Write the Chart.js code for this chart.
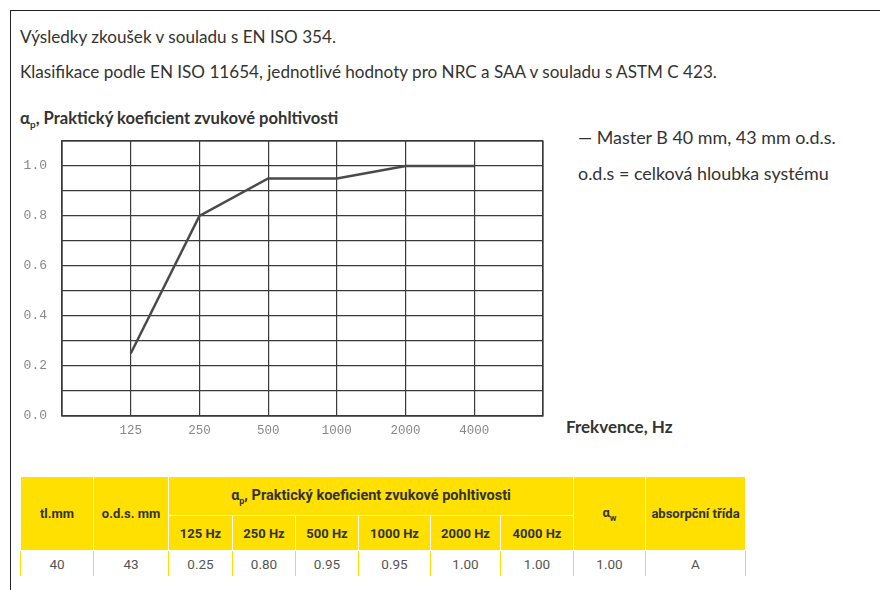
<!DOCTYPE html>
<html>
<head>
<meta charset="utf-8">
<script src="https://cdn.jsdelivr.net/npm/chart.js@4"></script>
<style>
  html, body { margin:0; padding:0; background:#fff; }
  body { width:880px; height:590px; position:relative; overflow:hidden; font-family: Lato, "Open Sans", sans-serif; color:#333; }
  .frame { position:absolute; left:10px; top:10px; width:880px; height:600px; border-left:1px solid #222; border-top:1px solid #222; }
  .t { position:absolute; white-space:nowrap; line-height:1; }
  #chartBox { position:absolute; left:0; top:125px; width:560px; height:320px; }
  table { position:absolute; left:20px; top:476px; border-collapse:collapse; font-family:"Liberation Sans Narrow", Roboto, sans-serif; }
  th { background:#FFE000; color:#333; font-weight:bold; font-size:13px; border:1px solid #fff; padding:0; text-align:center; }
  td { font-size:13.5px; color:#555; text-align:center; border-left:1px solid #FFE000; border-right:1px solid #FFE000; height:25px; padding:0; }
</style>
</head>
<body>
<div class="frame"></div>
<div class="t" style="left:20px;top:28px;font-size:17.1px;">Výsledky zkoušek v souladu s EN ISO 354.</div>
<div class="t" style="left:20px;top:63px;font-size:17.1px;">Klasifikace podle EN ISO 11654, jednotlivé hodnoty pro NRC a SAA v souladu s ASTM C 423.</div>
<div class="t" style="left:20px;top:110px;font-size:16.6px;font-weight:bold;">α<sub style="font-size:10px">p</sub>, Praktický koeficient zvukové pohltivosti</div>
<div class="t" style="left:578px;top:129px;font-size:17.9px;">— Master B 40 mm, 43 mm o.d.s.</div>
<div class="t" style="left:578px;top:165px;font-size:17.9px;">o.d.s = celková hloubka systému</div>
<div class="t" style="left:566px;top:418px;font-size:17px;font-weight:bold;">Frekvence, Hz</div>
<div id="chartBox"><canvas id="c" width="560" height="320"></canvas></div>
<table id="tbl"></table>
<script>
const categories = ['125', '250', '500', '1000', '2000', '4000'];
const absorption = [0.25, 0.80, 0.95, 0.95, 1.00, 1.00];
const yTickLabels = ['0.0', '0.2', '0.4', '0.6', '0.8', '1.0'];
const thickness = '40';
const ods = '43';
const alphaW = '1.00';
const absClass = 'A';

const tableColWidths = [73, 75, 64, 63, 63, 72, 70, 73, 72, 100];

// build table
(function(){
  const t = document.getElementById('tbl');
  let cg = '<colgroup>' + tableColWidths.map(w => `<col style="width:${w}px">`).join('') + '</colgroup>';
  let h1 = '<tr style="height:39px"><th rowspan="2">tl.mm</th><th rowspan="2">o.d.s. mm</th>' +
    `<th colspan="${categories.length}" style="font-size:14.5px">α<sub style="font-size:9px">p</sub>, Praktický koeficient zvukové pohltivosti</th>` +
    '<th rowspan="2">α<sub style="font-size:9px">w</sub></th><th rowspan="2">absorpční třída</th></tr>';
  let h2 = '<tr style="height:35px">' + categories.map(c => `<th>${c} Hz</th>`).join('') + '</tr>';
  let d = '<tr><td>' + thickness + '</td><td>' + ods + '</td>' +
    absorption.map(v => `<td>${v.toFixed(2)}</td>`).join('') +
    '<td>' + alphaW + '</td><td>' + absClass + '</td></tr>';
  t.innerHTML = cg + h1 + h2 + d;
})();

const points = absorption.map((v, i) => ({x: i, y: v}));
const gridColor = '#3a3a3a';

new Chart(document.getElementById('c'), {
  type: 'line',
  data: {
    datasets: [{
      data: points,
      borderColor: '#4a4a4a',
      borderWidth: 2.5,
      pointRadius: 0,
      tension: 0,
      fill: false
    }]
  },
  options: {
    responsive: false,
    animation: false,
    events: [],
    layout: { padding: { left: 0, right: 17, top: 16, bottom: 0 } },
    plugins: { legend: { display: false }, tooltip: { enabled: false } },
    scales: {
      x: {
        type: 'linear',
        min: -1,
        max: categories.length,
        afterFit: s => { s.height = 29; s.paddingLeft = 0; s.paddingRight = 0; },
        afterBuildTicks: s => { s.ticks = []; for (let i = -1; i <= categories.length; i++) s.ticks.push({value: i}); },
        ticks: {
          stepSize: 1,
          autoSkip: false,
          maxRotation: 0,
          padding: 7,
          color: '#888',
          font: { family: '"Liberation Mono", "DejaVu Sans Mono", monospace', size: 12.5 },
          callback: v => (v >= 0 && v < categories.length) ? categories[v] : ''
        },
        grid: { color: gridColor, lineWidth: 1.2, drawTicks: false },
        border: { color: gridColor, width: 1.2 }
      },
      y: {
        min: 0,
        max: 1.1,
        afterFit: s => { s.width = 62; s.paddingTop = 0; s.paddingBottom = 0; },
        afterBuildTicks: s => { s.ticks = []; for (let i = 0; i <= 11; i++) s.ticks.push({value: i / 10}); },
        ticks: {
          autoSkip: false,
          padding: 15,
          color: '#888',
          font: { family: '"Liberation Mono", "DejaVu Sans Mono", monospace', size: 13 },
          callback: (v, i) => (i % 2 === 0 && i / 2 < yTickLabels.length) ? yTickLabels[i / 2] : ''
        },
        grid: { color: gridColor, lineWidth: 1.2, drawTicks: false },
        border: { color: gridColor, width: 1.2 }
      }
    }
  },
  plugins: [{
    id: 'frameTopRight',
    afterDraw(chart) {
      const {ctx, chartArea: a} = chart;
      ctx.save();
      ctx.strokeStyle = gridColor; ctx.lineWidth = 1.2;
      ctx.strokeRect(a.left, a.top, a.right - a.left, a.bottom - a.top);
      ctx.restore();
    }
  }]
});
</script>
</body>
</html>
